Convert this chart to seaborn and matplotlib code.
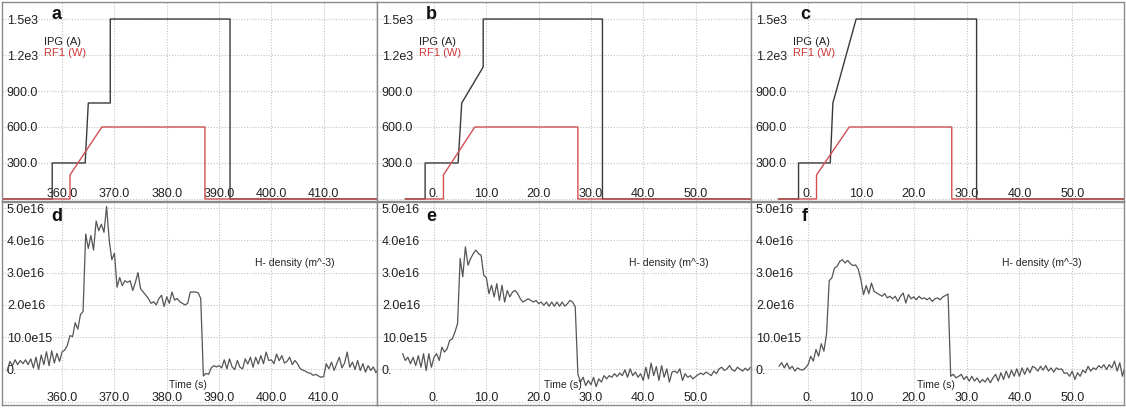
import numpy as np
import pandas as pd
import seaborn as sns
import matplotlib
matplotlib.use("Agg")
import matplotlib.pyplot as plt

# ---- data ----
# top row: IPG current (A) and RF1 power (W) programmes, breakpoints
ipg_a_t = [348.5, 358.1, 358.1, 364.4, 365.0, 369.2, 369.2, 392.1, 392.1, 420.2]
ipg_a_v = [0, 0, 300, 300, 800, 800, 1500, 1500, 0, 0]
rf_a_t = [348.5, 361.5, 361.5, 367.6, 387.3, 387.3, 420.2]
rf_a_v = [0, 0, 200, 600, 600, 0, 0]

ipg_b_t = [-5.5, -1.7, -1.7, 4.6, 5.3, 9.4, 9.4, 32.2, 32.2, 60.6]
ipg_b_v = [0, 0, 300, 300, 800, 1100, 1500, 1500, 0, 0]
rf_b_t = [-5.5, 1.8, 1.8, 7.8, 27.5, 27.5, 60.6]
rf_b_v = [0, 0, 200, 600, 600, 0, 0]

ipg_c_t = [-5.6, -1.8, -1.8, 4.2, 4.7, 9.1, 31.9, 31.9, 59.8]
ipg_c_v = [0, 0, 300, 300, 800, 1500, 1500, 0, 0]
rf_c_t = [-5.6, 1.6, 1.6, 7.8, 27.2, 27.2, 59.8]
rf_c_v = [0, 0, 200, 600, 600, 0, 0]

# bottom row: H- density (1e16 m^-3), sampled every 0.5 s
dt = 0.5
dens_d_t0 = 349.5
dens_d = [-0.05, 0.25, 0.12, 0.30, 0.15, 0.28, 0.18, 0.30, 0.15, 0.33,
          0.05, 0.38, 0.00, 0.45, 0.15, 0.55, 0.12, 0.58, 0.20, 0.50,
          0.25, 0.55, 0.60, 0.75, 1.05, 1.02, 1.45, 1.25, 1.70, 1.80,
          4.20, 3.75, 4.15, 3.70, 4.60, 4.30, 4.50, 4.25, 5.05, 4.00,
          3.40, 3.60, 2.55, 2.85, 2.60, 2.75, 2.70, 2.75, 2.45, 2.70,
          3.00, 2.50, 2.40, 2.30, 2.20, 2.05, 2.10, 2.00, 2.20, 2.30,
          1.95, 2.25, 2.05, 2.40, 2.15, 2.20, 2.10, 2.05, 2.00, 2.05,
          2.40, 2.40, 2.40, 2.38, 2.20, -0.20, -0.12, -0.15, 0.05, 0.12,
          0.08, 0.12, 0.05, 0.30, 0.02, 0.33, 0.08, 0.00, 0.28, 0.07,
          0.02, 0.33, 0.17, 0.38, 0.07, 0.38, 0.17, 0.43, 0.18, 0.54,
          0.28, 0.30, 0.18, 0.48, 0.27, 0.43, 0.20, 0.25, 0.38, 0.15,
          0.28, 0.18, 0.03, -0.02, -0.05, -0.10, -0.12, -0.18, -0.15, -0.20,
          -0.24, -0.22, 0.18, 0.02, 0.23, -0.03, 0.18, 0.38, 0.05, 0.20,
          0.54, 0.07, 0.23, 0.00, 0.28, -0.03, 0.18, -0.08, 0.12, -0.03,
          0.08, -0.10, 0.05]

dens_e_t0 = -6.0
dens_e = [0.49, 0.28, 0.38, 0.18, 0.38, 0.12, 0.43, 0.07, 0.49, -0.03,
          0.49, 0.07, 0.38, 0.49, 0.28, 0.69, 0.54, 0.64, 0.90, 0.95,
          1.16, 1.42, 3.44, 2.87, 3.80, 3.23, 3.44, 3.59, 3.70, 3.59,
          3.54, 2.92, 2.85, 2.35, 2.61, 2.25, 2.66, 2.14, 2.61, 2.09,
          2.45, 2.25, 2.40, 2.45, 2.35, 2.19, 2.09, 2.14, 2.19, 2.14,
          2.09, 2.14, 2.04, 2.09, 1.99, 2.09, 1.96, 2.09, 1.96, 2.09,
          1.96, 2.09, 1.96, 2.04, 2.14, 2.09, 1.94, -0.13, -0.39, -0.24,
          -0.50, -0.34, -0.47, -0.24, -0.53, -0.29, -0.39, -0.19, -0.29, -0.19,
          -0.24, -0.13, -0.22, -0.11, -0.19, -0.01, -0.24, 0.02, -0.19, -0.08,
          -0.24, -0.13, -0.34, 0.07, -0.29, 0.20, -0.19, 0.09, -0.34, 0.12,
          -0.24, 0.02, -0.39, -0.08, -0.05, -0.11, 0.02, -0.34, -0.13, -0.24,
          -0.19, -0.29, -0.22, -0.16, -0.11, -0.16, -0.08, -0.13, -0.19, -0.05,
          -0.13, 0.02, 0.07, -0.03, 0.02, 0.12, -0.01, -0.05, 0.07, 0.01,
          -0.05, 0.04, -0.03, 0.07]

dens_f_t0 = -5.5
dens_f = [0.10, 0.21, 0.05, 0.20, 0.02, 0.10, -0.05, 0.05, 0.00, -0.02,
          0.05, 0.15, 0.41, 0.26, 0.62, 0.41, 0.80, 0.57, 1.10, 2.75,
          2.84, 3.14, 3.20, 3.35, 3.40, 3.30, 3.38, 3.28, 3.22, 3.24,
          3.11, 2.78, 2.32, 2.60, 2.35, 2.68, 2.42, 2.37, 2.32, 2.27,
          2.35, 2.22, 2.27, 2.19, 2.27, 2.11, 2.27, 2.37, 2.06, 2.32,
          2.19, 2.25, 2.16, 2.27, 2.19, 2.22, 2.16, 2.22, 2.11, 2.19,
          2.22, 2.16, 2.25, 2.29, 2.34, -0.21, -0.15, -0.26, -0.21, -0.15,
          -0.31, -0.21, -0.36, -0.21, -0.36, -0.26, -0.41, -0.31, -0.39, -0.26,
          -0.41, -0.26, -0.15, -0.36, -0.10, -0.31, -0.05, -0.26, -0.02, -0.21,
          0.02, -0.21, 0.05, -0.15, 0.05, -0.10, 0.10, 0.05, -0.05, 0.10,
          -0.02, 0.12, -0.05, 0.05, -0.08, 0.05, 0.00, 0.02, -0.12, -0.10,
          -0.21, -0.05, -0.31, -0.10, -0.21, -0.02, -0.10, 0.10, -0.05, 0.05,
          0.00, 0.12, 0.05, 0.15, 0.00, 0.15, 0.05, 0.26, -0.05, 0.21,
          -0.21, 0.10]

xlims = [(348.5, 420.2), (-10.9, 60.6), (-10.8, 59.8)]
xticks = [[360, 370, 380, 390, 400, 410], [0, 10, 20, 30, 40, 50], [0, 10, 20, 30, 40, 50]]
xticklabels = [["360.0", "370.0", "380.0", "390.0", "400.0", "410.0"],
               ["0.", "10.0", "20.0", "30.0", "40.0", "50.0"],
               ["0.", "10.0", "20.0", "30.0", "40.0", "50.0"]]
top_yticks = [0, 300, 600, 900, 1200, 1500]
top_ylabels = ["", "300.0", "600.0", "900.0", "1.2e3", "1.5e3"]
bot_yticks = [-1, 0, 1, 2, 3, 4, 5]
bot_ylabels = ["", "0.", "10.0e15", "2.0e16", "3.0e16", "4.0e16", "5.0e16"]
top_letters = ["a", "b", "c"]
bot_letters = ["d", "e", "f"]

sns.set_style("white")
plt.rcParams['font.family'] = ['Liberation Sans', 'DejaVu Sans']

fig = plt.figure(figsize=(11.26, 4.08), dpi=100)
W, H = 1126.0, 408.0
col_px = [(2, 377), (377, 751), (751, 1124)]
row_px = [(2, 201), (202, 405)]

ipg = [(ipg_a_t, ipg_a_v), (ipg_b_t, ipg_b_v), (ipg_c_t, ipg_c_v)]
rf = [(rf_a_t, rf_a_v), (rf_b_t, rf_b_v), (rf_c_t, rf_c_v)]
dens = [(dens_d_t0, dens_d), (dens_e_t0, dens_e), (dens_f_t0, dens_f)]

grid_kw = dict(color="#c2c2c2", linestyle=(0, (1, 1.5)), linewidth=0.8)


def style_axes(ax, ci, yticks, ylabels):
    ax.set_xlim(*xlims[ci])
    ax.set_xticks(xticks[ci], labels=xticklabels[ci])
    ax.set_yticks(yticks, labels=ylabels)
    ax.grid(True, **grid_kw)
    ax.tick_params(axis="x", direction="in", length=0, pad=-9.5, labelsize=9, colors="#222222")
    ax.tick_params(axis="y", direction="in", length=0, pad=-3.5, labelsize=9, colors="#222222")
    for lab in ax.get_yticklabels():
        lab.set_horizontalalignment("left")
    for s in ax.spines.values():
        s.set_color("#8a8a8a")
        s.set_linewidth(1.0)
    ax.set_xlabel("")
    ax.set_ylabel("")


for ci in range(3):
    x0, x1 = col_px[ci]
    # top row
    y0, y1 = row_px[0]
    ax = fig.add_axes([x0 / W, (H - y1) / H, (x1 - x0) / W, (y1 - y0) / H])
    df_i = pd.DataFrame({"t": ipg[ci][0], "v": ipg[ci][1]})
    df_r = pd.DataFrame({"t": rf[ci][0], "v": rf[ci][1]})
    sns.lineplot(data=df_i, x="t", y="v", ax=ax, color="#3a3a3a", lw=1.0,
                 estimator=None, sort=False)
    sns.lineplot(data=df_r, x="t", y="v", ax=ax, color="#d05050", lw=1.0,
                 estimator=None, sort=False)
    ax.set_ylim(-17, 1642)
    style_axes(ax, ci, top_yticks, top_ylabels)
    ax.text(0.145, 0.935, top_letters[ci], transform=ax.transAxes, fontsize=13,
            fontweight="bold", ha="center", va="center", color="#111111")
    ax.text(0.113, 0.80, "IPG (A)", transform=ax.transAxes, fontsize=8,
            ha="left", va="center", color="#222222")
    ax.text(0.113, 0.744, "RF1 (W)", transform=ax.transAxes, fontsize=8,
            ha="left", va="center", color="#d03a3a")

    # bottom row
    y0, y1 = row_px[1]
    ax = fig.add_axes([x0 / W, (H - y1) / H, (x1 - x0) / W, (y1 - y0) / H])
    t0, vals = dens[ci]
    df_d = pd.DataFrame({"t": t0 + dt * np.arange(len(vals)), "n": vals})
    sns.lineplot(data=df_d, x="t", y="n", ax=ax, color="#555555", lw=0.9,
                 estimator=None, sort=False)
    ax.set_ylim(-1.10, 5.19)
    style_axes(ax, ci, bot_yticks, bot_ylabels)
    ax.text(0.145, 0.93, bot_letters[ci], transform=ax.transAxes, fontsize=13,
            fontweight="bold", ha="center", va="center", color="#111111")
    ax.text(0.78, 0.70, "H- density (m^-3)", transform=ax.transAxes, fontsize=7.5,
            ha="center", va="center", color="#222222")
    ax.text(0.496, 0.10, "Time (s)", transform=ax.transAxes, fontsize=7.5,
            ha="center", va="center", color="#222222")

fig.savefig("out.png", dpi=100, facecolor="white")
